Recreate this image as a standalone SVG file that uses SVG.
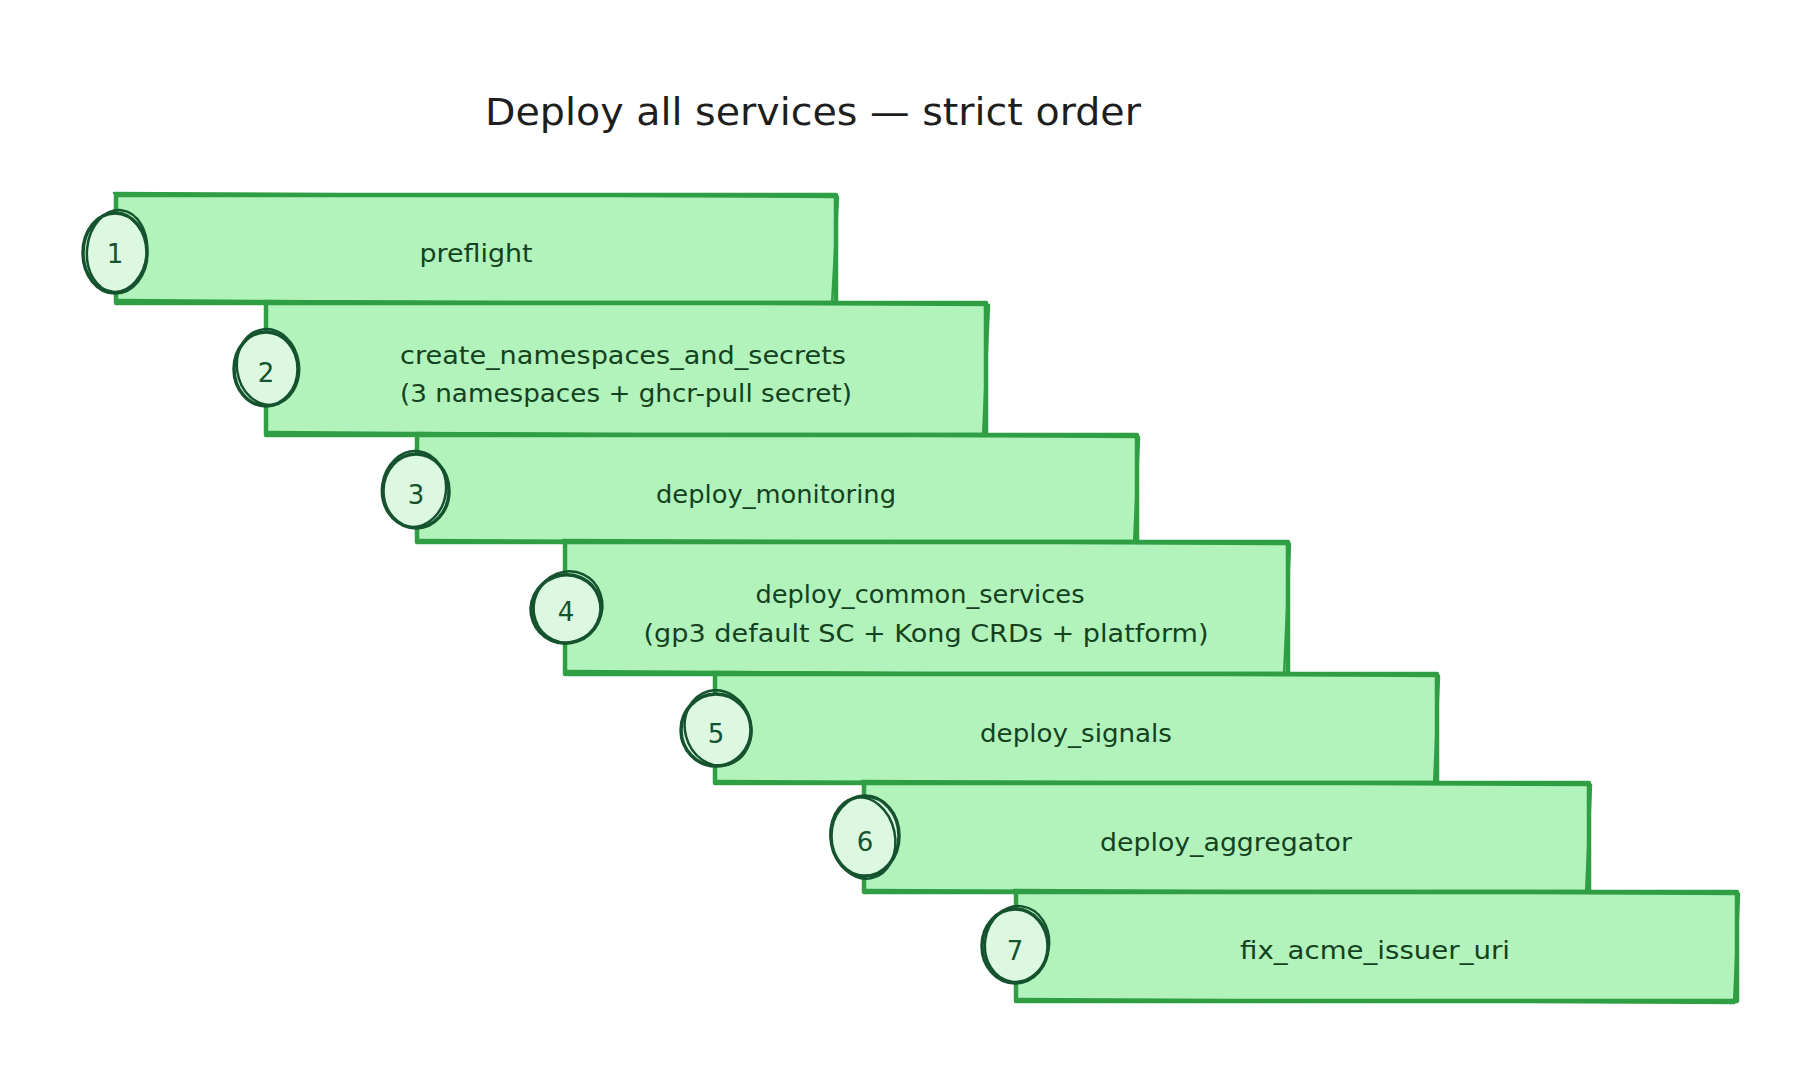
<svg xmlns="http://www.w3.org/2000/svg" width="1816" height="1082" viewBox="0 0 1816 1082">
  <style>
    .box { fill: #b2f2bb; stroke: #2f9e44; stroke-width: 4.5; stroke-linejoin: round; }
    .sk { fill: none; stroke: #2f9e44; stroke-width: 2.5; stroke-linecap: round; stroke-linejoin: round; }
    .badge { fill: #dcf8e0; stroke: #14532d; stroke-width: 3.5; }
    .badge2 { fill: none; stroke: #14532d; stroke-width: 2.5; }
    .num { font-family: "DejaVu Sans", "Liberation Sans", sans-serif; font-size: 26px; fill: #14532d; text-anchor: middle; }
    .lbl { font-family: "DejaVu Sans", "Liberation Sans", sans-serif; font-size: 25px; fill: #14421f; text-anchor: middle; }
    .title { font-family: "DejaVu Sans", "Liberation Sans", sans-serif; font-size: 37px; fill: #1e1e1e; }
  </style>
  <rect x="0" y="0" width="1816" height="1082" fill="#ffffff"/>
  <text class="title" x="485" y="125" textLength="656" lengthAdjust="spacingAndGlyphs">Deploy all services — strict order</text>
  <g id="connectors"/>

  <g id="node1">
    <rect class="box" x="116" y="195" width="720" height="108"/>
    <path class="sk" d="M114 193 L838 197 L832 305 L118 300"/>
    <ellipse class="badge" cx="115" cy="253" rx="32" ry="40"/>
    <ellipse class="badge2" cx="117" cy="251" rx="30" ry="41" transform="rotate(6 117 251)"/>
    <text class="num" x="115" y="263">1</text>
    <text class="lbl" x="476" y="262" textLength="113" lengthAdjust="spacingAndGlyphs">preflight</text>
  </g>

  <g id="node2">
    <rect class="box" x="266" y="303" width="720" height="132"/>
    <path class="sk" d="M264 301 L989 305 L983 437 L268 432"/>
    <ellipse class="badge" cx="266" cy="369" rx="32" ry="37"/>
    <ellipse class="badge2" cx="268" cy="367" rx="31" ry="38" transform="rotate(-8 268 367)"/>
    <text class="num" x="266" y="382">2</text>
    <text class="lbl" x="623" y="364" textLength="446" lengthAdjust="spacingAndGlyphs">create_namespaces_and_secrets</text>
    <text class="lbl" x="626" y="402" textLength="452" lengthAdjust="spacingAndGlyphs">(3 namespaces + ghcr-pull secret)</text>
  </g>

  <g id="node3">
    <rect class="box" x="417" y="435" width="720" height="107"/>
    <path class="sk" d="M415 433 L1139 437 L1134 544 L419 540"/>
    <ellipse class="badge" cx="416" cy="491" rx="33" ry="37"/>
    <ellipse class="badge2" cx="414" cy="489" rx="32" ry="38" transform="rotate(7 414 489)"/>
    <text class="num" x="416" y="504">3</text>
    <text class="lbl" x="776" y="503" textLength="240" lengthAdjust="spacingAndGlyphs">deploy_monitoring</text>
  </g>

  <g id="node4">
    <rect class="box" x="565" y="542" width="723" height="132"/>
    <path class="sk" d="M563 540 L1290 544 L1284 676 L567 671"/>
    <ellipse class="badge" cx="566" cy="609" rx="35" ry="34" transform="rotate(-20 566 609)"/>
    <ellipse class="badge2" cx="568" cy="607" rx="34" ry="36" transform="rotate(25 568 607)"/>
    <text class="num" x="566" y="621">4</text>
    <text class="lbl" x="920" y="603" textLength="329" lengthAdjust="spacingAndGlyphs">deploy_common_services</text>
    <text class="lbl" x="926" y="642" textLength="565" lengthAdjust="spacingAndGlyphs">(gp3 default SC + Kong CRDs + platform)</text>
  </g>

  <g id="node5">
    <rect class="box" x="715" y="674" width="722" height="109"/>
    <path class="sk" d="M713 672 L1439 676 L1434 785 L717 781"/>
    <ellipse class="badge" cx="716" cy="730" rx="35" ry="36"/>
    <ellipse class="badge2" cx="718" cy="728" rx="33" ry="38" transform="rotate(-15 718 728)"/>
    <text class="num" x="716" y="743">5</text>
    <text class="lbl" x="1076" y="742" textLength="192" lengthAdjust="spacingAndGlyphs">deploy_signals</text>
  </g>

  <g id="node6">
    <rect class="box" x="864" y="783" width="725" height="109"/>
    <path class="sk" d="M862 781 L1591 785 L1586 894 L866 890"/>
    <ellipse class="badge" cx="865" cy="836" rx="34" ry="40"/>
    <ellipse class="badge2" cx="863" cy="838" rx="32" ry="41" transform="rotate(-12 863 838)"/>
    <text class="num" x="865" y="851">6</text>
    <text class="lbl" x="1226" y="851" textLength="252" lengthAdjust="spacingAndGlyphs">deploy_aggregator</text>
  </g>

  <g id="node7">
    <rect class="box" x="1016" y="892" width="721" height="109"/>
    <path class="sk" d="M1014 890 L1739 894 L1734 1003 L1018 999"/>
    <ellipse class="badge" cx="1015" cy="946" rx="33" ry="37"/>
    <ellipse class="badge2" cx="1017" cy="944" rx="32" ry="38" transform="rotate(8 1017 944)"/>
    <text class="num" x="1015" y="960">7</text>
    <text class="lbl" x="1375" y="959" textLength="270" lengthAdjust="spacingAndGlyphs">fix_acme_issuer_uri</text>
  </g>
</svg>
